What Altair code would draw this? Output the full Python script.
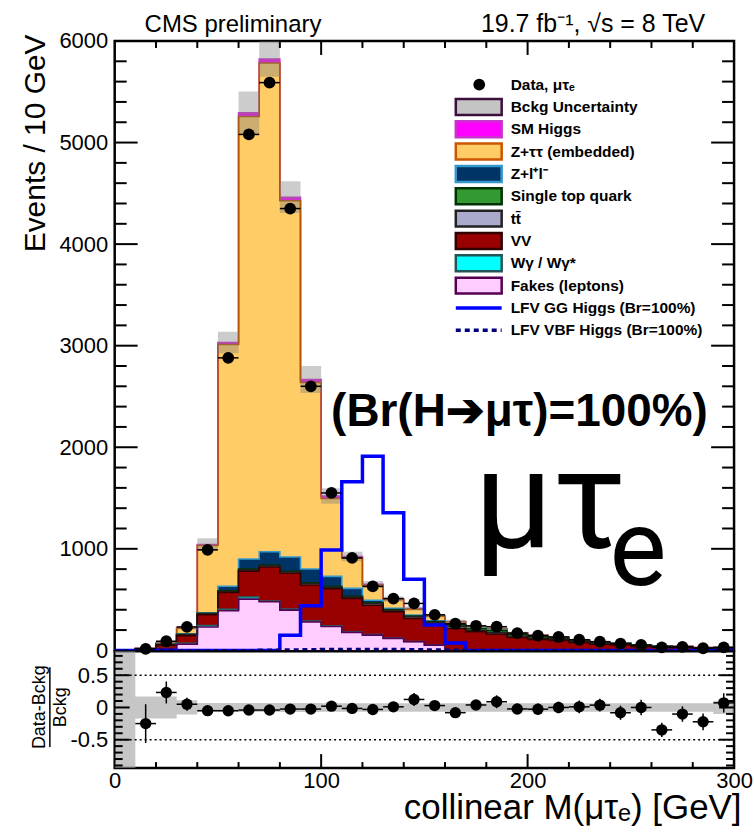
import altair as alt
import pandas as pd

# ---------------------------------------------------------------------------
# Collinear mass M(mu tau_e), 10 GeV bins from 0 to 300 GeV
# ---------------------------------------------------------------------------
bin_lo = list(range(0, 300, 10))

data_obs = [None, 15, 90, 231, 990, 2880, 5080, 5590, 4350, 2600,
            1550, 910, 630, 510, 462, 350, 262, 242, 233, 170,
            145, 132, 105, 86, 67, 53, 30, 35, 21, 30]

# background processes, bottom of the stack first
fakes = [0, 5, 15, 60, 230, 390, 505, 478, 396, 280,
         235, 177, 150, 118, 85, 52, 0, 0, 0, 0,
         0, 0, 0, 0, 0, 0, 0, 0, 0, 0]
wgamma = [0, 1, 3, 10, 15, 15, 20, 8, 10, 8,
          7, 5, 5, 4, 3, 2, 0, 0, 0, 0,
          0, 0, 0, 0, 0, 0, 0, 0, 0, 0]
vv = [1, 8, 35, 75, 105, 165, 255, 335, 353, 355,
      365, 330, 290, 258, 226, 204, 215, 183, 160, 128,
      108, 98, 77, 60, 54, 38, 34, 29, 21, 21]
ttbar = [0, 1, 4, 8, 8, 10, 12, 12, 12, 15,
         14, 12, 14, 15, 16, 18, 18, 12, 14, 14,
         12, 11, 9, 8, 7, 5, 4, 4, 2, 3]
single_top = [0, 1, 2, 5, 6, 6, 8, 8, 8, 8,
              8, 8, 10, 8, 8, 8, 18, 18, 20, 16,
              14, 12, 10, 8, 7, 5, 4, 3, 2, 2]
z_ll = [0, 1, 3, 5, 6, 45, 100, 130, 140, 135,
        100, 78, 25, 12, 10, 8, 7, 8, 8, 6,
        5, 5, 4, 3, 3, 2, 2, 2, 1, 1]
z_tautau = [1, 3, 11, 55, 662, 2381, 4357, 4812, 3508, 1836,
            766, 299, 146, 84, 58, 44, 24, 10, 10, 9,
            9, 5, 4, 4, 2, 3, 2, 1, 1, 1]
sm_higgs = [0, 0, 0, 2, 10, 20, 35, 40, 35, 30,
            25, 15, 10, 6, 5, 4, 3, 2, 2, 1,
            1, 1, 0, 0, 0, 0, 0, 0, 0, 0]

# LFV signals (Br = 100%)
lfv_gg = [0, 0, 0, 0, 0, 0, 0, 0, 150, 439,
          989, 1660, 1912, 1356, 700, 249, 72, 0, 0, 0,
          0, 0, 0, 0, 0, 0, 0, 0, 0, 0]
lfv_vbf = [0, 0, 0, 0, 0, 0, 0, 3, 5, 8,
           10, 12, 12, 10, 8, 5, 3, 0, 0, 0,
           0, 0, 0, 0, 0, 0, 0, 0, 0, 0]

# relative background uncertainty (main panel band)
bkg_unc = [0.6, 0.25, 0.12, 0.08, 0.06, 0.035, 0.04, 0.03, 0.035, 0.05,
           0.05, 0.05, 0.05, 0.05, 0.05, 0.05, 0.06, 0.06, 0.06, 0.06,
           0.06, 0.06, 0.06, 0.06, 0.06, 0.06, 0.06, 0.06, 0.06, 0.1]
# half-width of the uncertainty band in the ratio panel
ratio_band = [2.0, 0.17, 0.17, 0.11, 0.07, 0.07, 0.07, 0.07, 0.07, 0.07,
              0.065, 0.065, 0.065, 0.065, 0.065, 0.065, 0.065, 0.065, 0.065, 0.065,
              0.065, 0.065, 0.065, 0.065, 0.065, 0.065, 0.065, 0.065, 0.065, 0.1]
# statistical error on (Data-Bckg)/Bckg
ratio_err = [0, 0.30, 0.17, 0.10, 0.04, 0.025, 0.02, 0.02, 0.02, 0.025,
             0.03, 0.04, 0.045, 0.06, 0.10, 0.06, 0.07, 0.07, 0.10, 0.08,
             0.09, 0.09, 0.10, 0.10, 0.11, 0.12, 0.11, 0.12, 0.13, 0.15]

names = ["Fakes (leptons)", "Wγ / Wγ*", "VV", "tt̄", "Single top quark",
         "Z+l⁺l⁻", "Z+ττ (embedded)", "SM Higgs"]
fills = ["#ffccff", "#00ffff", "#990000", "#aaaacc", "#339933",
         "#003366", "#ffcc66", "#ff00ff"]
edges_col = ["#550055", "#226666", "#330000", "#222222", "#003300",
             "#3399cc", "#b35300", "#cc33cc"]
components = [fakes, wgamma, vv, ttbar, single_top, z_ll, z_tautau, sm_higgs]

FONT = "Liberation Sans"
W, H_TOP, H_RAT = 621, 611, 117
NB = len(bin_lo)
edges = bin_lo + [300]

# ---------------------------------------------------------------------------
# tables
# ---------------------------------------------------------------------------
rows = []
cum = [0.0] * NB
for name, vals in zip(names, components):
    for i, e in enumerate(edges):
        k = min(i, NB - 1)
        rows.append({"process": name, "edge": e, "lo": cum[k], "hi": cum[k] + vals[k]})
    cum = [c + v for c, v in zip(cum, vals)]
total = cum
stack_df = pd.DataFrame(rows)


def per_edge(vals):
    return [vals[min(i, NB - 1)] for i in range(len(edges))]


band_df = pd.DataFrame({
    "edge": edges,
    "up": [t * (1 + u) for t, u in zip(per_edge(total), per_edge(bkg_unc))],
    "dn": [t * (1 - u) for t, u in zip(per_edge(total), per_edge(bkg_unc))],
    "rup": per_edge(ratio_band),
    "rdn": [-v for v in per_edge(ratio_band)],
    "gg": per_edge(lfv_gg),
    "vbf": per_edge(lfv_vbf),
})

pts = []
for i, d in enumerate(data_obs):
    if d is None:
        continue
    r = d / total[i] - 1
    pts.append({"lo": bin_lo[i], "hi": bin_lo[i] + 10, "c": bin_lo[i] + 5,
                "n": d, "r": r, "r_lo": r - ratio_err[i], "r_hi": r + ratio_err[i]})
pts_df = pd.DataFrame(pts)

x_scale = alt.Scale(domain=[0, 300], nice=False, zero=False)
y_scale = alt.Scale(domain=[0, 6000], nice=False)
r_scale = alt.Scale(domain=[-0.94, 0.87], nice=False, zero=False)

top_axis = alt.Axis(values=list(range(0, 6001, 1000)), format="d", ticks=False, domain=False,
                    grid=False, labelFontSize=22, labelPadding=7, labelFlush=False,
                    title="Events / 10 GeV", titleFontSize=30, titleAngle=270,
                    titleAlign="right", titleBaseline="alphabetic", titleX=-70, titleY=-7)
rat_axis = alt.Axis(values=[-0.5, 0, 0.5], ticks=False, domain=False, grid=False,
                    labelFontSize=22, labelPadding=7, labelFlush=False, title=None,
                    labelExpr="datum.value == 0 ? '0' : (datum.value > 0 ? '0.5' : '-0.5')")
rx_axis = alt.Axis(values=[0, 100, 200, 300], ticks=False, domain=False, grid=False,
                   labelFontSize=22, labelPadding=2, labelFlush=False,
                   title="collinear M(μτₑ) [GeV]", titleFontSize=35, titleAlign="right",
                   titleBaseline="alphabetic", titleX=W + 7, titleY=51)


def XT(field):
    return alt.X(field, scale=x_scale, axis=None)


def YT(field):
    return alt.Y(field, scale=y_scale, axis=top_axis, stack=None)


def XR(field):
    return alt.X(field, scale=x_scale, axis=rx_axis)


def YR(field):
    return alt.Y(field, scale=r_scale, axis=rat_axis, stack=None)


one = pd.DataFrame({"k": [0]})

# ---------------------------------------------------------------------------
# main panel
# ---------------------------------------------------------------------------
areas = alt.Chart(stack_df).mark_area(interpolate="step-after").encode(
    x=XT("edge:Q"), y=YT("hi:Q"), y2="lo:Q",
    fill=alt.Fill("process:N", scale=alt.Scale(domain=names, range=fills), legend=None),
)
# outlines drawn from the top of the stack downwards, as a THStack does
outlines = [
    alt.Chart(stack_df[stack_df.process == name]).mark_line(
        interpolate="step-after", strokeWidth=1.6, color=col).encode(x=XT("edge:Q"), y=YT("hi:Q"))
    for name, col in reversed(list(zip(names, edges_col)))
]
unc_band = alt.Chart(band_df).mark_area(interpolate="step-after", color="#808080",
                                        opacity=0.4).encode(
    x=XT("edge:Q"), y=YT("up:Q"), y2="dn:Q")
gg_line = alt.Chart(band_df).mark_line(interpolate="step-after", color="#0000ff",
                                       strokeWidth=3.5).encode(x=XT("edge:Q"), y=YT("gg:Q"))
vbf_line = alt.Chart(band_df).mark_line(interpolate="step-after", color="#000080",
                                        strokeWidth=3, strokeDash=[5, 4]).encode(
    x=XT("edge:Q"), y=YT("vbf:Q"))
data_h = alt.Chart(pts_df).mark_rule(color="black", strokeWidth=1.5).encode(
    x=XT("lo:Q"), x2="hi:Q", y=YT("n:Q"))
data_pts = alt.Chart(pts_df).mark_circle(color="black", opacity=1, size=140).encode(
    x=XT("c:Q"), y=YT("n:Q"))

# inside ticks of the frame
y_minor = pd.DataFrame({"v": [v for v in range(200, 6000, 200) if v % 1000]})
y_major = pd.DataFrame({"v": list(range(1000, 6000, 1000))})
x_minor = pd.DataFrame({"v": [v for v in range(20, 300, 20) if v % 100]})
x_major = pd.DataFrame({"v": [100, 200]})


def hticks(df, yenc, length, right=False):
    x0, x1 = (W - length, W) if right else (0, length)
    return alt.Chart(df).mark_rule(color="black", strokeWidth=2).encode(
        y=yenc, x=alt.value(x0), x2=alt.value(x1))


def vticks(df, xenc, y0, y1):
    return alt.Chart(df).mark_rule(color="black", strokeWidth=2).encode(
        x=xenc, y=alt.value(y0), y2=alt.value(y1))


top_ticks = [hticks(y_minor, YT("v:Q"), 12), hticks(y_major, YT("v:Q"), 23),
             hticks(y_minor, YT("v:Q"), 12, True), hticks(y_major, YT("v:Q"), 23, True),
             vticks(x_minor, XT("v:Q"), 0, 7), vticks(x_major, XT("v:Q"), 0, 14)]


def label(text, x, y, size, weight="normal", align="left", baseline="alphabetic", angle=0,
          font=FONT):
    return alt.Chart(one).mark_text(text=text, font=font, fontSize=size, fontWeight=weight,
                                    align=align, baseline=baseline, angle=angle,
                                    color="black").encode(x=alt.value(x), y=alt.value(y))


texts = [
    label("CMS preliminary", 30, -9, 24),
    label("19.7 fb⁻¹, √s = 8 TeV", 592, -9, 25, align="right"),
    label("(Br(H➔μτ)=100%)", 217, 386, 46, weight="bold"),
    label("μτ", 360, 508, 140, font="Roboto"),
    label("e", 496, 545, 108, font="Roboto"),
]

# legend
leg_entries = [
    ("Data, μτₑ", "point", None, None),
    ("Bckg Uncertainty", "box", "#c4c4c4", "#3c0f3c"),
    ("SM Higgs", "box", "#ff00ff", "#cc33cc"),
    ("Z+ττ (embedded)", "box", "#ffcc66", "#cc5500"),
    ("Z+l⁺l⁻", "box", "#003366", "#3399cc"),
    ("Single top quark", "box", "#339933", "#003300"),
    ("tt̄", "box", "#aaaacc", "#222222"),
    ("VV", "box", "#990000", "#330000"),
    ("Wγ / Wγ*", "box", "#00ffff", "#225555"),
    ("Fakes (leptons)", "box", "#ffccff", "#550055"),
    ("LFV GG Higgs (Br=100%)", "solid", "#0000ff", None),
    ("LFV VBF Higgs (Br=100%)", "dashed", "#000080", None),
]
legend = []
for i, (txt, kind, fc, sc) in enumerate(leg_entries):
    yc = 43.7 + 22.4 * i
    if kind == "point":
        legend.append(alt.Chart(one).mark_circle(color="black", opacity=1, size=140).encode(
            x=alt.value(365.5), y=alt.value(yc)))
    elif kind == "box":
        legend.append(alt.Chart(one).mark_rect(fill=fc, stroke=sc, strokeWidth=2.5).encode(
            x=alt.value(342), x2=alt.value(388), y=alt.value(yc - 8), y2=alt.value(yc + 8)))
    else:
        dash = [1, 0] if kind == "solid" else [5, 4]
        legend.append(alt.Chart(one).mark_rule(color=fc, strokeWidth=3.5, strokeDash=dash).encode(
            x=alt.value(342), x2=alt.value(388), y=alt.value(yc)))
    legend.append(label(txt, 397, yc, 15.5, weight="bold", baseline="middle"))

top = alt.layer(areas, *outlines, unc_band, gg_line, vbf_line, data_h, data_pts,
                *top_ticks, *texts, *legend).properties(width=W, height=H_TOP)

# ---------------------------------------------------------------------------
# ratio panel
# ---------------------------------------------------------------------------
guides = pd.DataFrame({"v": [-0.5, 0.5]})
r_band = alt.Chart(band_df).mark_area(interpolate="step-after", color="#a0a0a0",
                                      opacity=0.6, clip=True).encode(
    x=XR("edge:Q"), y=YR("rup:Q"), y2="rdn:Q")
r_guides = alt.Chart(guides).mark_rule(color="black", strokeWidth=1.5,
                                       strokeDash=[2, 3]).encode(
    y=YR("v:Q"), x=alt.value(0), x2=alt.value(W))
r_h = alt.Chart(pts_df).mark_rule(color="black", strokeWidth=1.5).encode(
    x=XR("lo:Q"), x2="hi:Q", y=YR("r:Q"))
r_v = alt.Chart(pts_df).mark_rule(color="black", strokeWidth=1.5).encode(
    x=XR("c:Q"), y=YR("r_lo:Q"), y2="r_hi:Q")
r_pts = alt.Chart(pts_df).mark_circle(color="black", opacity=1, size=130).encode(
    x=XR("c:Q"), y=YR("r:Q"))

ry_minor = pd.DataFrame({"v": [round(-0.9 + 0.1 * k, 1) for k in range(18)
                               if round(-0.9 + 0.1 * k, 1) not in (-0.5, 0.0, 0.5)]})
ry_major = pd.DataFrame({"v": [-0.5, 0.0, 0.5]})
rat_ticks = [hticks(ry_minor, YR("v:Q"), 8), hticks(ry_major, YR("v:Q"), 15),
             hticks(ry_minor, YR("v:Q"), 8, True), hticks(ry_major, YR("v:Q"), 15, True),
             vticks(x_minor, XR("v:Q"), H_RAT - 6, H_RAT),
             vticks(x_major, XR("v:Q"), H_RAT - 14, H_RAT)]

rat_title = [
    label("Data-Bckg", -75, 56, 18, align="center", baseline="middle", angle=270),
    label("Bckg", -54, 56, 18, align="center", baseline="middle", angle=270),
    alt.Chart(one).mark_rule(color="black", strokeWidth=1.5).encode(
        x=alt.value(-65), x2=alt.value(-65), y=alt.value(16), y2=alt.value(96)),
]

ratio = alt.layer(r_band, r_guides, r_h, r_v, r_pts, *rat_ticks, *rat_title).properties(
    width=W, height=H_RAT)

chart = alt.vconcat(top, ratio, spacing=1, bounds="flush").properties(
    padding={"left": 19, "top": 9, "right": 0, "bottom": 0},
    background="white",
).configure_view(
    stroke="black", strokeWidth=2.5
).configure_axis(
    labelFont=FONT, titleFont=FONT, labelColor="black", titleColor="black",
    titleFontWeight="normal", grid=False
)

chart.save("out.html", embed_options={"renderer": "svg", "actions": False})
